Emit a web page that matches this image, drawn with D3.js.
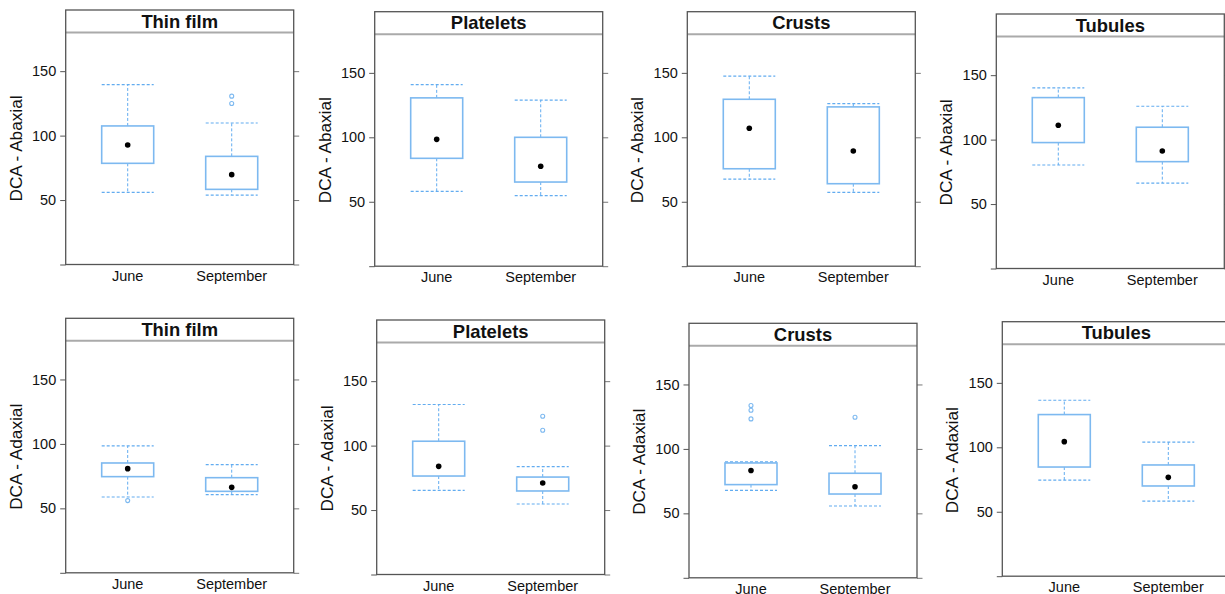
<!DOCTYPE html>
<html>
<head>
<meta charset="utf-8">
<script src="https://cdn.jsdelivr.net/npm/d3@7"></script>
<style>
  body { margin: 0; background: #fff; }
  text { font-family: "Liberation Sans", Arial, sans-serif; }
</style>
</head>
<body>
<svg id="fig" width="1225" height="594"></svg>
<script>
// data
const types = ["Thin film", "Platelets", "Crusts", "Tubules"];
const surfaces = ["Abaxial", "Adaxial"];
const months = ["June", "September"];
const yTicks = [0, 50, 100, 150];
const yTickLabels = ["", "50", "100", "150"];

// [lower whisker, Q1, median, Q3, upper whisker], one row per type
const abaxialJune = [
    [56, 78.5, 92.7, 107.5, 139.6],
    [58, 83.7, 98.4, 130.6, 140.9],
    [67.6, 75.6, 107, 129.5, 147.4],
    [80.3, 97.7, 111.1, 132.6, 140.2]
];
const abaxialSeptember = [
    [53.9, 58.3, 69.7, 83.9, 109.8],
    [54.7, 65.3, 77.5, 100, 128.8],
    [57.3, 64, 89.4, 123.6, 126.2],
    [66.3, 82.9, 91.2, 109.6, 125.9]
];
const adaxialJune = [
    [58.8, 74.6, 80.8, 85.2, 98.4],
    [65.3, 76.4, 83.9, 103.4, 131.9],
    [67.9, 72.3, 83.2, 89.1, 89.9],
    [74.6, 84.7, 104.4, 125.4, 136.5]
];
const adaxialSeptember = [
    [60.6, 63.2, 66.3, 73.8, 83.9],
    [54.7, 64.8, 71, 75.6, 83.7],
    [55.7, 65, 70.7, 81.1, 102.6],
    [58.3, 70, 76.7, 86.3, 104.1]
];
// outliers per type: [June, September]
const abaxialOutliers = [[[], [130.6, 124.9]], [[], []], [[], []], [[], []]];
const adaxialOutliers = [[[56], []], [[], [122.8, 111.9]], [[133.7, 130, 123.3], [124.6]], [[], []]];

// panel placement (left, top of strip) - each panel was pasted separately
const panelPos = [
    [[65.7, 10], [374.7, 11.7], [687.3, 11.7], [996.3, 14]],
    [[65.7, 318.3], [376.7, 320], [689, 323.3], [1002.3, 321.7]]
];
const panelW = 228, stripH = 22.5, plotH = 232;
const boxCol = "#7db9f0", whiskCol = "#62acf0";

const svg = d3.select("#fig");

const rows = [
    { surf: surfaces[0], june: abaxialJune, sept: abaxialSeptember, out: abaxialOutliers },
    { surf: surfaces[1], june: adaxialJune, sept: adaxialSeptember, out: adaxialOutliers }
];

rows.forEach(function (row, ri) {
    types.forEach(function (type, ti) {
        const [px, py] = panelPos[ri][ti];
        const g = svg.append("g").attr("transform", "translate(" + px + "," + py + ")");
        const plotTop = stripH;

        const x = d3.scalePoint().domain(months).range([0, panelW]).padding(0.596);
        const y = d3.scaleLinear().domain([0, 180]).range([plotTop + plotH, plotTop]);
        const bw = x.step() * 0.5;

        // y axes, left and right
        const yl = g.append("g")
            .call(d3.axisLeft(y).tickValues(yTicks).tickSize(5.5).tickPadding(4)
                .tickFormat(function (d, i) { return yTickLabels[i]; }));
        yl.select(".domain").remove();
        yl.selectAll("line").attr("stroke", "#555");
        yl.selectAll("text").attr("font-size", 14.5).attr("fill", "#111");

        const yr = g.append("g").attr("transform", "translate(" + panelW + ",0)")
            .call(d3.axisRight(y).tickValues(yTicks).tickSize(5.5).tickFormat(""));
        yr.select(".domain").remove();
        yr.selectAll("line").attr("stroke", "#777");

        // x labels
        g.selectAll(".xlab").data(months).join("text")
            .attr("class", "xlab")
            .attr("x", function (d) { return x(d); })
            .attr("y", plotTop + plotH + 16)
            .attr("text-anchor", "middle")
            .attr("font-size", 14.5)
            .attr("fill", "#111")
            .text(function (d) { return d; });

        // y label
        g.append("text")
            .attr("transform", "translate(-44," + (plotTop + plotH / 2) + ") rotate(-90)")
            .attr("text-anchor", "middle")
            .attr("font-size", 17.2)
            .attr("fill", "#111")
            .text("DCA - " + row.surf);

        // strip
        g.append("text")
            .attr("x", panelW / 2)
            .attr("y", 17.8)
            .attr("text-anchor", "middle")
            .attr("font-size", 18.4)
            .attr("font-weight", "bold")
            .attr("fill", "#111")
            .text(type);
        g.append("line")
            .attr("x1", 0).attr("x2", panelW)
            .attr("y1", plotTop).attr("y2", plotTop)
            .attr("stroke", "#aaa").attr("stroke-width", 2);

        const stats = [row.june[ti], row.sept[ti]];
        const outs = row.out[ti];

        months.forEach(function (m, mi) {
            const s = stats[mi];
            const cx = x(m);
            const bg = g.append("g");
            // whisker stems
            bg.append("line")
                .attr("x1", cx).attr("x2", cx)
                .attr("y1", y(s[3])).attr("y2", y(s[4]))
                .attr("stroke", whiskCol).attr("stroke-dasharray", "3,2");
            bg.append("line")
                .attr("x1", cx).attr("x2", cx)
                .attr("y1", y(s[1])).attr("y2", y(s[0]))
                .attr("stroke", whiskCol).attr("stroke-dasharray", "3,2");
            // whisker caps
            [s[0], s[4]].forEach(function (v) {
                bg.append("line")
                    .attr("x1", cx - bw / 2).attr("x2", cx + bw / 2)
                    .attr("y1", y(v)).attr("y2", y(v))
                    .attr("stroke", whiskCol).attr("stroke-width", 1.2)
                    .attr("stroke-dasharray", "3,2");
            });
            // box
            bg.append("rect")
                .attr("x", cx - bw / 2).attr("width", bw)
                .attr("y", y(s[3])).attr("height", y(s[1]) - y(s[3]))
                .attr("fill", "none").attr("stroke", boxCol).attr("stroke-width", 1.6);
            // median dot
            bg.append("circle")
                .attr("cx", cx).attr("cy", y(s[2])).attr("r", 2.8)
                .attr("fill", "#000");
            // outliers
            bg.selectAll(".out").data(outs[mi]).join("circle")
                .attr("class", "out")
                .attr("cx", cx).attr("cy", function (d) { return y(d); })
                .attr("r", 2).attr("fill", "none")
                .attr("stroke", boxCol).attr("stroke-width", 1.1);
        });

        // panel border
        g.append("rect")
            .attr("x", 0).attr("y", 0)
            .attr("width", panelW).attr("height", stripH + plotH)
            .attr("fill", "none").attr("stroke", "#555").attr("stroke-width", 1.3);
    });
});
</script>
</body>
</html>
